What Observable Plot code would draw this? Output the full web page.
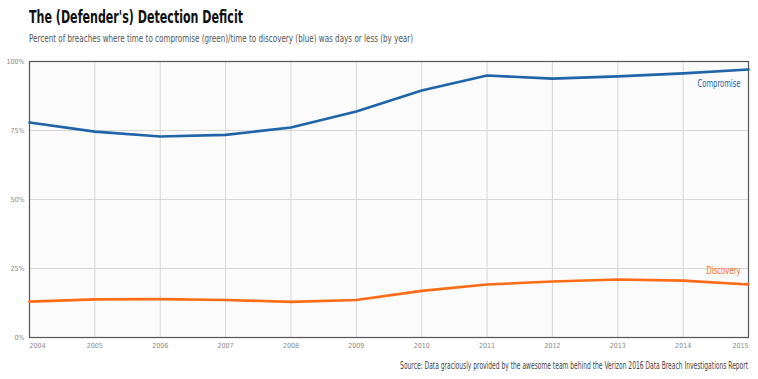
<!DOCTYPE html>
<html>
<head>
<meta charset="utf-8">
<script src="https://cdn.jsdelivr.net/npm/d3@7"></script>
<script src="https://cdn.jsdelivr.net/npm/@observablehq/plot@0.6"></script>
<style>
  body { margin: 0; background: #fff; width: 758px; height: 379px; overflow: hidden; font-family: "DejaVu Sans Condensed", "Liberation Sans Narrow", "DejaVu Sans", sans-serif; font-stretch: condensed; }
  .fit { position: absolute; white-space: nowrap; display: inline-block; }
  #title { left: 29px; top: 6px; font-size: 18px; font-weight: bold; color: #111; transform-origin: left top; }
  #subtitle { left: 29px; top: 32px; font-size: 11px; color: #555; transform-origin: left top; }
  #chart { position: absolute; left: 0; top: 52px; }
  #caption { right: 10px; top: 360px; font-size: 10px; color: #444; transform-origin: right top; }
  svg text { font-stretch: condensed; }
</style>
</head>
<body>
<div id="title" class="fit" data-w="214">The (Defender's) Detection Deficit</div>
<div id="subtitle" class="fit" data-w="384">Percent of breaches where time to compromise (green)/time to discovery (blue) was days or less (by year)</div>
<div id="chart"></div>
<div id="caption" class="fit" data-w="348">Source: Data graciously provided by the awesome team behind the Verizon 2016 Data Breach Investigations Report</div>
<script>
const years = [2004, 2005, 2006, 2007, 2008, 2009, 2010, 2011, 2012, 2013, 2014, 2015];
const compromise = [77.9, 74.6, 72.8, 73.4, 76.1, 81.9, 89.5, 94.9, 93.8, 94.6, 95.7, 97.1];
const discovery = [13.0, 13.8, 13.9, 13.6, 12.9, 13.6, 16.9, 19.2, 20.3, 21.0, 20.6, 19.2];
const seriesNames = ["Compromise", "Discovery"];
const seriesColors = ["#1f63a8", "#ff6c17"];
const yTicks = [0, 25, 50, 75, 100];

document.querySelectorAll(".fit").forEach(el => {
  const w = el.getBoundingClientRect().width;
  const target = +el.dataset.w;
  if (w > 0) el.style.transform = `scaleX(${target / w})`;
});

const data = [];
years.forEach((y, i) => {
  data.push({year: y, value: compromise[i], series: "Compromise"});
  data.push({year: y, value: discovery[i], series: "Discovery"});
});
const last = data.filter(d => d.year === years[years.length - 1]);
const font = "DejaVu Sans Condensed, Liberation Sans Narrow, sans-serif";

const chart = Plot.plot({
  width: 758,
  height: 305,
  marginTop: 9,
  marginBottom: 20,
  marginLeft: 29,
  marginRight: 10,
  style: { fontFamily: font, fontSize: "7px", color: "#666", background: "transparent" },
  x: { domain: [years[0], years[years.length - 1]], axis: null },
  y: { domain: [0, 100], axis: null },
  color: { domain: seriesNames, range: seriesColors },
  marks: [
    Plot.frame({ fill: "#fbfbfb", stroke: "none" }),
    Plot.gridX(years, { stroke: "#d6d6d6", strokeOpacity: 1, strokeWidth: 1 }),
    Plot.gridY(yTicks, { stroke: "#d6d6d6", strokeOpacity: 1, strokeWidth: 1 }),
    Plot.frame({ stroke: "#555", strokeWidth: 1.2 }),
    Plot.axisY(yTicks, { label: null, tickSize: 0, tickPadding: 5, tickFormat: d => d + "%", fill: "#888", fontSize: 7 }),
    Plot.axisX(years.slice(1, -1), { label: null, tickSize: 0, tickPadding: 6, tickFormat: d => String(d), fill: "#888", fontSize: 7 }),
    Plot.text([years[0]], { x: d => d, frameAnchor: "bottom", dy: 10, textAnchor: "start", text: d => String(d), fill: "#888", fontSize: 7 }),
    Plot.text([years[years.length - 1]], { x: d => d, frameAnchor: "bottom", dy: 10, textAnchor: "end", text: d => String(d), fill: "#888", fontSize: 7 }),
    Plot.line(data, { x: "year", y: "value", z: "series", stroke: "series", strokeWidth: 2.6, curve: "linear" }),
    Plot.text(last.filter(d => d.series === "Compromise"), { x: "year", y: "value", text: "series", fill: "series", textAnchor: "end", dx: -8, dy: 14, fontSize: 10 }),
    Plot.text(last.filter(d => d.series === "Discovery"), { x: "year", y: "value", text: "series", fill: "series", textAnchor: "end", dx: -8, dy: -14, fontSize: 10 })
  ]
});
document.getElementById("chart").appendChild(chart);

const labelWidths = { "Compromise": 43, "Discovery": 34 };
chart.querySelectorAll("text").forEach(el => {
  const t = el.textContent.trim();
  if (labelWidths[t]) {
    const w = el.getComputedTextLength();
    const k = w > 0 ? labelWidths[t] / w : 1;
    const tr = el.getAttribute("transform") || "";
    el.setAttribute("transform", (tr + ` scale(${k},1)`).trim());
  }
});
</script>
</body>
</html>
